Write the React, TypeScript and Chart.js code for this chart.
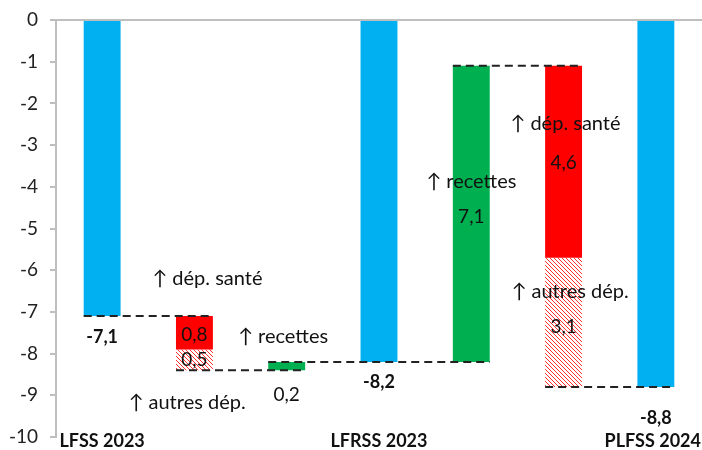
import React, { useEffect, useRef } from "react";
import { Chart, registerables } from "chart.js";

Chart.register(...registerables);

const categories = ["LFSS 2023", "", "", "LFRSS 2023", "", "", "PLFSS 2024"];
const solidBars: ([number, number] | null)[] = [
  [0, -7.1],
  [-7.1, -7.9],
  [-8.4, -8.2],
  [0, -8.2],
  [-8.2, -1.1],
  [-1.1, -5.7],
  [0, -8.8],
];
const solidColors = ["#00B0F0", "#FF0000", "#00B050", "#00B0F0", "#00B050", "#FF0000", "#00B0F0"];
const hatchedBars: ([number, number] | null)[] = [null, [-7.9, -8.4], null, null, null, [-5.7, -8.8], null];
const yTicks = [0, -1, -2, -3, -4, -5, -6, -7, -8, -9, -10];

// connectors: from bar index, to bar index, level
const connectorFrom = [0, 1, 2, 4, 5];
const connectorTo = [1, 2, 4, 5, 6];
const connectorLevel = [-7.1, -8.4, -8.2, -1.1, -8.8];

// value labels (text, category position, value position, bold)
const valueTexts = ["-7,1", "0,8", "0,5", "0,2", "-8,2", "7,1", "4,6", "3,1", "-8,8"];
const valuePos = [0, 1, 1, 2, 3, 4, 5, 5, 6];
const valueLevel = [-7.6, -7.55, -8.15, -9.0, -8.68, -4.72, -3.43, -7.36, -9.54];
const valueBold = [true, false, false, false, true, false, false, false, true];

// annotations
const noteTexts = ["↑ dép. santé", "↑ recettes", "↑ autres dép.", "↑ recettes", "↑ dép. santé", "↑ autres dép."];
const notePos = [1.14, 1.96, 0.92, 4.0, 5.02, 5.07];
const noteLevel = [-6.19, -7.6, -9.18, -3.88, -2.49, -6.52];

const FONT = "Lato, 'Open Sans', sans-serif";

function makeHatch(): CanvasPattern | string {
  const c = document.createElement("canvas");
  c.width = 4;
  c.height = 4;
  const g = c.getContext("2d");
  if (!g) return "#FF9999";
  g.fillStyle = "#ffffff";
  g.fillRect(0, 0, 4, 4);
  g.strokeStyle = "#FF3030";
  g.lineWidth = 1;
  g.beginPath();
  g.moveTo(0, 0);
  g.lineTo(4, 4);
  g.moveTo(-1, 3);
  g.lineTo(1, 5);
  g.moveTo(3, -1);
  g.lineTo(5, 1);
  g.stroke();
  return g.createPattern(c, "repeat") || "#FF9999";
}

export default function App() {
  const ref = useRef<HTMLCanvasElement>(null);
  useEffect(() => {
    if (!ref.current) return;
    const overlay = {
      id: "overlay",
      afterDatasetsDraw(chart: any) {
        const ctx = chart.ctx as CanvasRenderingContext2D;
        const xs = chart.scales.x;
        const ys = chart.scales.y;
        const meta = chart.getDatasetMeta(0);
        const area = chart.chartArea;
        const px = (p: number) => {
          const a = xs.getPixelForValue(0);
          const b = xs.getPixelForValue(1);
          return a + p * (b - a);
        };
        ctx.save();
        // top axis line at 0
        ctx.strokeStyle = "#BFBFBF";
        ctx.lineWidth = 2;
        ctx.beginPath();
        ctx.moveTo(area.left, ys.getPixelForValue(0));
        ctx.lineTo(area.right, ys.getPixelForValue(0));
        ctx.stroke();
        // connectors
        ctx.strokeStyle = "#222";
        ctx.lineWidth = 2;
        ctx.setLineDash([8, 5]);
        for (let i = 0; i < connectorFrom.length; i++) {
          const a = meta.data[connectorFrom[i]];
          const b = meta.data[connectorTo[i]];
          const y = ys.getPixelForValue(connectorLevel[i]);
          ctx.beginPath();
          ctx.moveTo(a.x - a.width / 2, y);
          ctx.lineTo(b.x + b.width / 2, y);
          ctx.stroke();
        }
        ctx.setLineDash([]);
        ctx.fillStyle = "#111";
        ctx.textAlign = "center";
        ctx.textBaseline = "middle";
        for (let i = 0; i < valueTexts.length; i++) {
          ctx.font = valueBold[i] ? `bold 18px ${FONT}` : `19px ${FONT}`;
          ctx.fillText(valueTexts[i], px(valuePos[i]), ys.getPixelForValue(valueLevel[i]));
        }
        ctx.font = `20px ${FONT}`;
        for (let i = 0; i < noteTexts.length; i++) {
          ctx.fillText(noteTexts[i], px(notePos[i]), ys.getPixelForValue(noteLevel[i]));
        }
        // category labels
        ctx.font = `bold 18px ${FONT}`;
        const yl = ys.getPixelForValue(-10) + 4;
        const W = chart.width;
        for (let i = 0; i < categories.length; i++) {
          if (!categories[i]) continue;
          const w = ctx.measureText(categories[i]).width;
          let cx = px(i);
          cx = Math.min(Math.max(cx, area.left + w / 2 + 2), W - w / 2 - 1);
          ctx.fillText(categories[i], cx, yl);
        }
        ctx.restore();
      },
    };
    const hatch = makeHatch();
    const chart = new Chart(ref.current, {
      type: "bar",
      data: {
        labels: categories,
        datasets: [
          {
            data: solidBars as any,
            backgroundColor: solidColors,
            borderWidth: 0,
            grouped: false,
            barPercentage: 0.4,
            categoryPercentage: 1,
          } as any,
          {
            data: hatchedBars as any,
            backgroundColor: hatch as any,
            borderWidth: 0,
            grouped: false,
            barPercentage: 0.4,
            categoryPercentage: 1,
          } as any,
        ],
      },
      options: {
        animation: false,
        responsive: false,
        layout: { padding: { top: 20, bottom: 13, right: 0, left: 0 } },
        plugins: { legend: { display: false }, tooltip: { enabled: false } },
        scales: {
          x: { display: false },
          y: {
            min: -10,
            max: 0,
            afterFit: (s: any) => {
              s.width = 56;
              s.paddingTop = 0;
              s.paddingBottom = 0;
            },
            afterBuildTicks: (s: any) => {
              s.ticks = yTicks.map((v) => ({ value: v }));
            },
            ticks: {
              padding: 12,
              color: "#222",
              font: { family: FONT, size: 19 },
              callback: (v: any) => String(v),
            },
            grid: {
              drawOnChartArea: false,
              tickLength: 6,
              color: "#BFBFBF",
              lineWidth: 2,
            },
            border: { color: "#BFBFBF", width: 2 },
          },
        },
      },
      plugins: [overlay],
    });
    return () => chart.destroy();
  }, []);
  return (
    <div style={{ position: "absolute", left: 0, top: 0, width: 702, height: 450, background: "#fff" }}>
      <canvas ref={ref} width={702} height={450} style={{ width: 702, height: 450 }} />
    </div>
  );
}
